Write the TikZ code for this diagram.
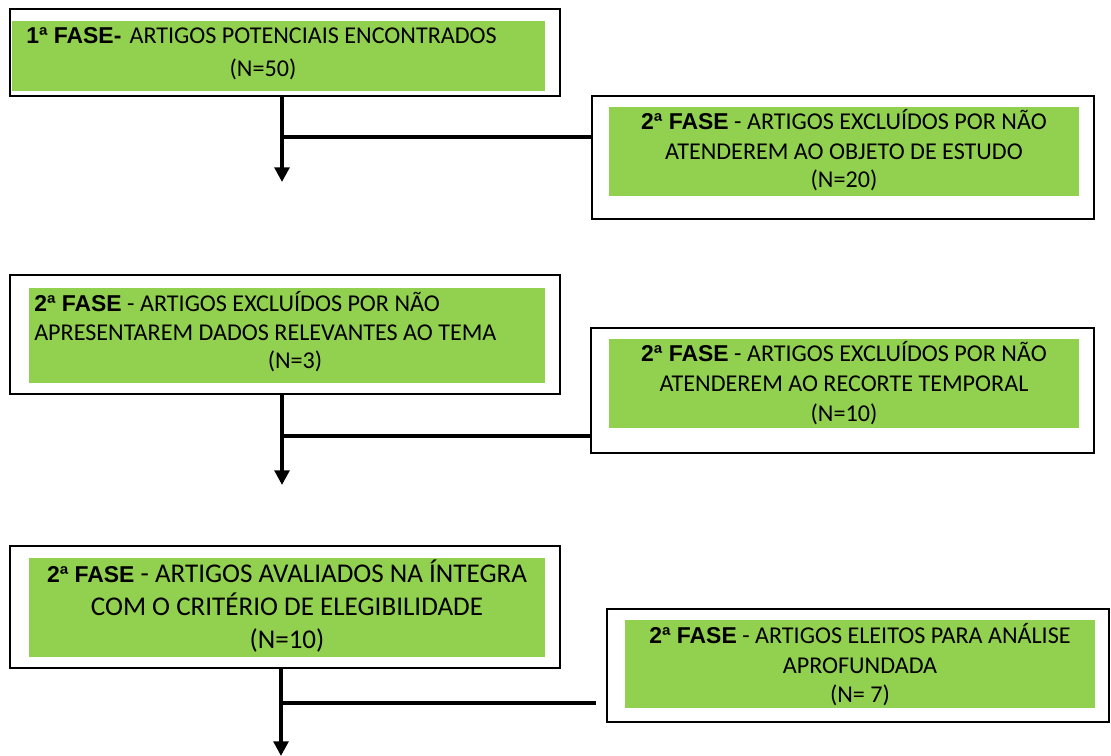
\documentclass[tikz,border=0pt]{standalone}
\usepackage{fontspec}
\setmainfont{Carlito}
\newfontfamily\arialf{Liberation Sans}
\usetikzlibrary{fit,arrows.meta}
\definecolor{fgreen}{HTML}{92D050}
\newcommand{\fase}[1]{{\arialf\bfseries\fontsize{17.2pt}{21pt}\selectfont #1}}
\tikzset{
  outerbox/.style={draw=black, line width=1.9pt, fill=white, inner sep=0pt, rectangle},
  greenbox/.style={fill=fgreen, draw=none, inner sep=0pt, rectangle},
  txt/.style={inner sep=0pt, font=\fontsize{18.1pt}{21pt}\selectfont},
  bigtxt/.style={inner sep=0pt, font=\fontsize{20.3pt}{24pt}\selectfont},
  conn/.style={line width=2.7pt},
  arr/.style={line width=2.7pt, -{Triangle[width=11pt,length=11pt]}}
}
\begin{document}
\begin{tikzpicture}[x=0.75pt,y=-0.75pt]
\useasboundingbox (0,0) rectangle (1111,756);
\fill[white] (0,0) rectangle (1111,756);

% Box 1
\node[outerbox, fit={(10,9)(560,96)}] (b1) {};
\node[greenbox, fit={(12,21)(545,91)}] (g1) {};
\node[txt, anchor=base west] (t1a) at (26,43.5) {\fase{1ª FASE-}\hspace{2pt} ARTIGOS POTENCIAIS ENCONTRADOS};
\node[txt, anchor=base] (t1b) at (263,77) {(N=50)};

% Box 2
\node[outerbox, fit={(592,96)(1094,219)}] (b2) {};
\node[greenbox, fit={(609,107)(1079,196)}] (g2) {};
\node[txt, anchor=base] (t2a) at (844,130) {\fase{2ª FASE} - ARTIGOS EXCLUÍDOS POR NÃO};
\node[txt, anchor=base] (t2b) at (844,159.3) {ATENDEREM AO OBJETO DE ESTUDO};
\node[txt, anchor=base] (t2c) at (844,188) {(N=20)};

% Box 3
\node[outerbox, fit={(10,275)(560,394)}] (b3) {};
\node[greenbox, fit={(29,288)(545,383)}] (g3) {};
\node[txt, anchor=base west] (t3a) at (34,311) {\fase{2ª FASE} - ARTIGOS EXCLUÍDOS POR NÃO};
\node[txt, anchor=base west] (t3b) at (34,340) {APRESENTAREM DADOS RELEVANTES AO TEMA};
\node[txt, anchor=base] (t3c) at (295,368) {(N=3)};

% Box 4
\node[outerbox, fit={(591,328)(1094,453)}] (b4) {};
\node[greenbox, fit={(609,339)(1079,428)}] (g4) {};
\node[txt, anchor=base] (t4a) at (844,361.5) {\fase{2ª FASE} - ARTIGOS EXCLUÍDOS POR NÃO};
\node[txt, anchor=base] (t4b) at (844,391.5) {ATENDEREM AO RECORTE TEMPORAL};
\node[txt, anchor=base] (t4c) at (844,421) {(N=10)};

% Box 5
\node[outerbox, fit={(10,546)(560,668)}] (b5) {};
\node[greenbox, fit={(29,558)(545,657)}] (g5) {};
\node[bigtxt, anchor=base] (t5a) at (287,582) {\fase{2ª FASE} - ARTIGOS AVALIADOS NA ÍNTEGRA};
\node[bigtxt, anchor=base] (t5b) at (287,615) {COM O CRITÉRIO DE ELEGIBILIDADE};
\node[bigtxt, anchor=base] (t5c) at (287,648) {(N=10)};

% Box 6
\node[outerbox, fit={(607,609)(1109,722)}] (b6) {};
\node[greenbox, fit={(625,620)(1095,708)}] (g6) {};
\node[txt, anchor=base] (t6a) at (860,643) {\fase{2ª FASE} - ARTIGOS ELEITOS PARA ANÁLISE};
\node[txt, anchor=base] (t6b) at (860,673) {APROFUNDADA};
\node[txt, anchor=base] (t6c) at (860,702) {(N= 7)};

% Connectors
\coordinate (a1) at (282,182);
\coordinate (j1) at (282,137);
\draw[arr] (b1.south -| a1) -- (a1);
\draw[conn] (j1) -- (b2.west |- j1);

\coordinate (a2) at (282,485);
\coordinate (j2) at (282,436);
\draw[arr] (b3.south -| a2) -- (a2);
\draw[conn] (j2) -- (b4.west |- j2);

\coordinate (a3) at (281,756);
\coordinate (j3) at (281,703);
\coordinate (e3) at (596,703);
\draw[arr] (b5.south -| a3) -- (a3);
\draw[conn] (j3) -- (e3);
\end{tikzpicture}
\end{document}
